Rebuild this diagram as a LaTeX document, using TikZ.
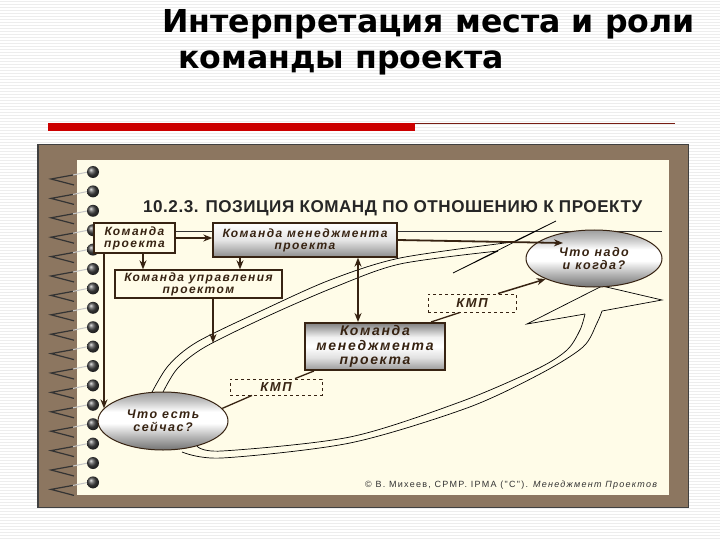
\documentclass[tikz,border=0pt]{standalone}
\usepackage{fontspec}
\setmainfont{Liberation Sans}
\newfontfamily\titlefont{DejaVu Sans}
\newfontfamily\boxfont{Liberation Sans}[LetterSpace=12]
\newfontfamily\hdrfont{Liberation Sans}[LetterSpace=3]
\newfontfamily\footfont{Liberation Sans}[LetterSpace=14]
\usetikzlibrary{arrows.meta,shapes.geometric,calc}
\definecolor{frameb}{RGB}{140,118,96}
\definecolor{cream}{RGB}{255,252,232}
\definecolor{ink}{RGB}{55,35,18}
\definecolor{redbar}{RGB}{204,0,0}
\definecolor{thinred}{RGB}{120,30,20}
\pgfdeclareverticalshading{ellsh}{100bp}{color(0bp)=(black!55); color(25bp)=(black!55); color(36bp)=(black!30); color(48bp)=(white); color(58bp)=(white); color(68bp)=(black!25); color(75bp)=(black!38); color(100bp)=(black!38)}
\pgfdeclareverticalshading{midsh}{100bp}{color(0bp)=(black!40); color(25bp)=(black!40); color(38bp)=(black!12); color(50bp)=(white); color(60bp)=(white!95!black); color(75bp)=(black!50); color(100bp)=(black!50)}
\pgfdeclareverticalshading{topsh}{100bp}{color(0bp)=(black!45); color(25bp)=(black!45); color(50bp)=(white!90!black); color(75bp)=(white); color(100bp)=(white)}
\pgfdeclarelayer{back}
\pgfdeclarelayer{bg}
\pgfsetlayers{back,bg,main}
\begin{document}
\begin{tikzpicture}[x=1pt,y=-1pt,
  btext/.style={text=ink, align=center, inner sep=0pt, font=\boxfont\bfseries\itshape\fontsize{12}{12}\selectfont},
  plainbox/.style={btext, draw=ink, line width=1.3pt, fill=cream},
  metalbox/.style={btext, draw=ink, line width=1.3pt, shading=topsh},
  bigbox/.style={btext, draw=ink, line width=2pt, shading=midsh, font=\boxfont\bfseries\itshape\fontsize{14}{14.5}\selectfont},
  ballell/.style={btext, ellipse, draw=ink, line width=1pt, shading=ellsh, font=\boxfont\bfseries\itshape\fontsize{12.5}{13.5}\selectfont},
  dashbox/.style={btext, draw=ink, dashed, line width=0.9pt, fill=cream, font=\boxfont\bfseries\itshape\fontsize{13}{13}\selectfont},
  arr/.style={draw=ink, line width=1.8pt, -{Stealth[length=9pt,width=7pt]}},
  darr/.style={draw=ink, line width=1.8pt, {Stealth[length=9pt,width=7pt]}-{Stealth[length=9pt,width=7pt]}},
  link/.style={draw=ink, line width=1.3pt},
  loopline/.style={draw=black, line width=0.7pt},
]
\useasboundingbox (0,0) rectangle (720,540);
\begin{pgfonlayer}{back}
\fill[white] (0,0) rectangle (720,540);
\foreach \yy in {1,4,...,540} \draw[gray!14, line width=0.6pt] (0,\yy) -- (720,\yy);
\fill[redbar] (48,123) rectangle (415,131);
\draw[thinred, line width=0.8pt] (415,123.5) -- (675,123.5);
\fill[black!75] (37,144) rectangle (689,508);
\fill[frameb] (38.5,145.5) rectangle (687.5,506.5);
\fill[cream] (77,160) rectangle (669,495);
\foreach \i in {0,...,16} {
  \pgfmathsetmacro\yy{172+19.4*\i}
  \draw[black!80, line width=1.2pt] (73,\yy+3) -- (51,\yy+7) -- (74,\yy+13);
  \draw[gray!45, line width=1pt] (73,\yy+3) -- (88,\yy);
  \shade[ball color=gray!55!black] (93,\yy) circle (6);
}
\end{pgfonlayer}

% titles
\node[anchor=base west, font=\titlefont\bfseries\fontsize{31.6}{33}\selectfont, inner sep=0pt] (t1) at (162,33) {Интерпретация места и роли};
\node[anchor=base west, font=\titlefont\bfseries\fontsize{31.6}{33}\selectfont, inner sep=0pt] (t2) at (178,69) {команды проекта};
\node[anchor=base west, font=\hdrfont\bfseries\fontsize{17.1}{18}\selectfont, text=black!85, inner sep=0pt] (hdr) at (143,212) {10.2.3. ПОЗИЦИЯ КОМАНД ПО ОТНОШЕНИЮ К ПРОЕКТУ};
\node[anchor=base west, font=\footfont\fontsize{9}{10}\selectfont, text=black!80, inner sep=0pt] (foot) at (365,487) {© В. Михеев, CPMP. IPMA ("C"). \textit{Менеджмент Проектов}};

% loop lines (background)
\begin{pgfonlayer}{bg}
\coordinate (tl) at (662,231);
\draw[black!80, line width=0.6pt] (175,231) -- (tl);
% upper shaft
\draw[loopline] plot[smooth] coordinates {(150,396) (168,366) (197,342) (263,310) (330,280) (400,258) (513,242)};
\draw[loopline] plot[smooth] coordinates {(161,396) (177,369) (205,347) (268,316) (335,287) (400,264) (498,251)};
\draw[loopline] (498,251) -- (453,273) -- (556,221) -- (513,242);
% lower shaft
\draw[loopline] plot[smooth] coordinates {(182,452) (222,458) (350,443) (467,408) (540,374) (583,347) (597,323) (602,311)};
\draw[loopline] plot[smooth] coordinates {(197,446) (222,451) (350,437) (460,402) (537,369) (567,350) (580,330) (585,314)};
\draw[loopline] (585,314) -- (527,324) -- (602,286) -- (662,300) -- (602,311);
\end{pgfonlayer}

% nodes
\node[plainbox, minimum width=81, minimum height=30] (kp) at (134.5,238) {Команда\\проекта};
\node[metalbox, minimum width=184, minimum height=34] (kmp1) at (305,240) {Команда менеджмента\\проекта};
\node[plainbox, minimum width=167, minimum height=28] (kup) at (198.5,284) {Команда управления\\проектом};
\node[bigbox, minimum width=140, minimum height=47] (kmp2) at (375,346.5) {Команда\\менеджмента\\проекта};
\node[ballell, minimum width=136, minimum height=57] (ell1) at (594,258.5) {Что надо\\и когда?};
\node[ballell, minimum width=130, minimum height=58] (ell2) at (163,421) {Что есть\\сейчас?};
\node[dashbox, minimum width=88, minimum height=18] (kmpd1) at (472,303) {КМП};
\node[dashbox, minimum width=92, minimum height=16] (kmpd2) at (276,387) {КМП};

% connectors
\draw[arr] (kp.east) -- (kp.east -| kmp1.west);
\coordinate (a1) at ($(kp.south)+(8.5,0)$);
\draw[arr] (a1) -- (a1 |- kup.north);
\coordinate (a2) at ($(kmp1.south)+(-65,0)$);
\draw[arr] (a2) -- (a2 |- kup.north);
\coordinate (a3) at ($(kp.south)+(-30.5,0)$);
\draw[arr] (a3) -- (a3 |- ell2.168);
\coordinate (a4) at ($(kup.south)+(14.5,0)$);
\coordinate (e1) at (213,343);
\draw[arr] (a4) -- (e1);
\coordinate (a5) at ($(kmp1.south)+(53,0)$);
\draw[darr] (a5) -- (a5 |- kmp2.north);
\coordinate (e2) at (563,243);
\draw[arr] (kmp1.east) -- (e2);
\draw[arr, line width=1.5pt] ($(kmpd1.north)+(26,0)$) -- (ell1.203);
\draw[link] ($(kmp2.north east)+(-15,0)$) -- ($(kmpd1.south)+(-12,0)$);
\draw[link] ($(kmp2.south west)+(10,0)$) -- ($(kmpd2.north)+(19,0)$);
\draw[link] ($(kmpd2.south)+(-24,0)$) -- (ell2.12);
\end{tikzpicture}
\end{document}
